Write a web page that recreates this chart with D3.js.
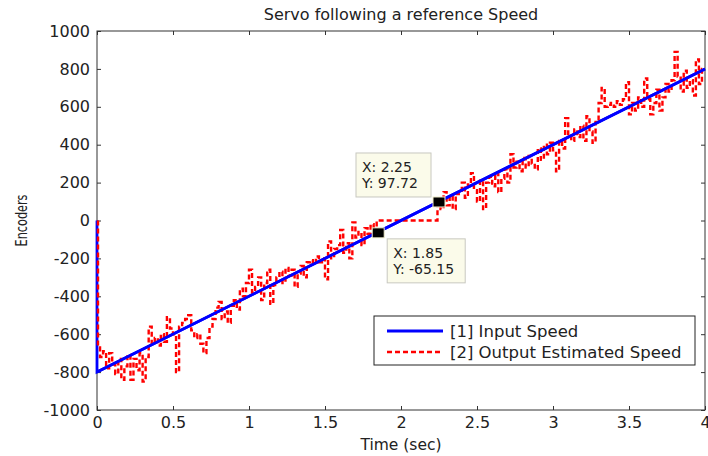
<!DOCTYPE html>
<html>
<head>
<meta charset="utf-8">
<script src="https://cdn.jsdelivr.net/npm/d3@7"></script>
<style>
  body { margin: 0; background: #fff; }
  svg text { font-family: "DejaVu Sans", sans-serif; fill: #222; }
</style>
</head>
<body>
<svg id="chart" width="708" height="456"></svg>
<script>
// input speed: jumps from 0 to -800 at t = 0, then ramps to 800 at t = 4
const inputTime = [0, 0, 4];
const inputSpeed = [0, -800, 800];

// estimated output speed, one sample every 0.02 s from t = 0 to t = 4
const sampleStep = 0.02;
const outputSpeed = [
  0, -670, -720, -690, -780, -700, -760, -810, -730, -840,
  -770, -710, -840, -730, -790, -700, -850, -720, -560, -650,
  -620, -660, -600, -640, -510, -570, -600, -800, -560, -540,
  -520, -500, -580, -620, -600, -650, -700, -620, -560, -520,
  -460, -430, -520, -480, -540, -450, -420, -470, -360, -400,
  -330, -260, -380, -350, -300, -420, -330, -260, -440, -340,
  -300, -270, -330, -250, -290, -260, -350, -280, -240, -300,
  -220, -210, -230, -190, -220, -200, -310, -110, -200, -150,
  -130, -50, -170, -120, -200, -10, -90, -60, -130, -40,
  -70, -20, -80, 0, 0, 0, 0, 0, 0, 0,
  0, 0, 0, 0, 0, 0, 0, 0, 0, 0,
  0, 0, 0, 110, 60, 150, 80, 130, 60, 140,
  150, 200, 120, 190, 250, 160, 100, 210, 60, 200,
  230, 180, 250, 150, 220, 270, 200, 350, 280, 310,
  260, 330, 280, 340, 300, 270, 380, 320, 400, 350,
  410, 370, 260, 420, 380, 540, 450, 420, 480, 440,
  500, 420, 550, 470, 410, 520, 620, 700, 600, 610,
  620, 600, 630, 610, 640, 730, 560, 620, 580, 650,
  600, 750, 640, 560, 620, 690, 580, 650, 720, 680,
  740, 890, 760, 680, 790, 700, 740, 660, 850, 720,
  800
];

const xTicks = [0, 0.5, 1, 1.5, 2, 2.5, 3, 3.5, 4];
const yTicks = [-1000, -800, -600, -400, -200, 0, 200, 400, 600, 800, 1000];

// data cursors placed on the input speed line
const tipX = [2.25, 1.85];
const tipY = [97.72, -65.15];

const legendLabels = ["[1] Input Speed", "[2] Output Estimated Speed"];

const svg = d3.select("#chart");
const margin = { left: 97, right: 3, top: 31, bottom: 46 };
const W = 708, H = 456;

const x = d3.scaleLinear().domain([0, 4]).range([margin.left, W - margin.right]);
const y = d3.scaleLinear().domain([-1000, 1000]).range([H - margin.bottom, margin.top]);

svg.append("clipPath").attr("id", "clip")
  .append("rect")
  .attr("x", x(0) - 2).attr("y", y(1000))
  .attr("width", x(4) - x(0) + 4).attr("height", y(-1000) - y(1000));

// axes, ticks pointing inward
const axisColor = "#333";
function styleAxis(g) {
  g.select(".domain").remove();
  g.selectAll(".tick line").attr("stroke", axisColor);
  g.selectAll(".tick text").attr("font-size", 16).attr("fill", "#222");
}

svg.append("g")
  .attr("transform", `translate(0,${y(-1000)})`)
  .call(d3.axisBottom(x).tickValues(xTicks).tickSize(-4).tickPadding(7).tickFormat((d) => String(d)))
  .call(styleAxis);

svg.append("g")
  .attr("transform", `translate(0,${y(1000)})`)
  .call(d3.axisTop(x).tickValues(xTicks).tickSize(-4).tickFormat(""))
  .call(styleAxis);

svg.append("g")
  .attr("transform", `translate(${x(0)},0)`)
  .call(d3.axisLeft(y).tickValues(yTicks).tickSize(-4).tickPadding(7).tickFormat((d) => String(d)))
  .call(styleAxis);

svg.append("g")
  .attr("transform", `translate(${x(4)},0)`)
  .call(d3.axisRight(y).tickValues(yTicks).tickSize(-4).tickFormat(""))
  .call(styleAxis);

svg.append("rect")
  .attr("x", x(0)).attr("y", y(1000))
  .attr("width", x(4) - x(0)).attr("height", y(-1000) - y(1000))
  .attr("fill", "none").attr("stroke", axisColor).attr("stroke-width", 1);

// lines
const plot = svg.append("g").attr("clip-path", "url(#clip)");

const inputLine = d3.line()
  .x((d, i) => x(inputTime[i]))
  .y((d) => y(d));

plot.append("path")
  .datum(inputSpeed)
  .attr("d", inputLine)
  .attr("fill", "none")
  .attr("stroke", "#0000ff")
  .attr("stroke-width", 2.8);

const outputLine = d3.line()
  .x((d, i) => x(i * sampleStep) + (i === 0 ? 1 : 0))
  .y((d) => y(d))
  .curve(d3.curveStepBefore);

plot.append("path")
  .datum(outputSpeed)
  .attr("d", outputLine)
  .attr("fill", "none")
  .attr("stroke", "#ff0000")
  .attr("stroke-width", 2.4)
  .attr("stroke-dasharray", "5,3");

// redraw the ramp over the noise, as in the reference
plot.append("path")
  .datum(inputSpeed.slice(1))
  .attr("d", d3.line().x((d, i) => x(inputTime[i + 1])).y((d) => y(d)))
  .attr("fill", "none")
  .attr("stroke", "#0000ff")
  .attr("stroke-width", 2.8);

// title and axis labels
svg.append("text")
  .attr("x", (x(0) + x(4)) / 2).attr("y", 20)
  .attr("text-anchor", "middle").attr("font-size", 16)
  .text("Servo following a reference Speed");

svg.append("text")
  .attr("x", (x(0) + x(4)) / 2).attr("y", 450)
  .attr("text-anchor", "middle").attr("font-size", 15.5)
  .text("Time (sec)");

svg.append("text")
  .attr("transform", `translate(27,${(y(1000) + y(-1000)) / 2}) rotate(-90)`)
  .attr("text-anchor", "middle").attr("font-size", 15)
  .attr("textLength", 52).attr("lengthAdjust", "spacingAndGlyphs")
  .text("Encoders");

// data tips
const tipBoxes = [
  { dx: -83, dy: -49, w: 75, h: 44 },
  { dx: 9, dy: 6, w: 78, h: 44 }
];
tipX.forEach((tx, i) => {
  const px = x(tx), py = y(tipY[i]);
  const b = tipBoxes[i];
  const g = svg.append("g");
  g.append("rect")
    .attr("x", px + b.dx).attr("y", py + b.dy)
    .attr("width", b.w).attr("height", b.h)
    .attr("fill", "#fbfbea").attr("stroke", "#c8c8c0");
  g.append("text")
    .attr("x", px + b.dx + 6).attr("y", py + b.dy + 19)
    .attr("font-size", 14).text(`X: ${tx}`);
  g.append("text")
    .attr("x", px + b.dx + 6).attr("y", py + b.dy + 35)
    .attr("font-size", 14).text(`Y: ${tipY[i]}`);
  g.append("rect")
    .attr("x", px - 6).attr("y", py - 5)
    .attr("width", 12).attr("height", 10)
    .attr("fill", "#000").attr("stroke", "#f3f0d0").attr("stroke-width", 1);
});

// legend
const legend = svg.append("g").attr("transform", "translate(374,316)");
legend.append("rect")
  .attr("width", 321).attr("height", 49)
  .attr("fill", "#fff").attr("stroke", "#222");
const legendStyles = [
  { color: "#0000ff", dash: null, width: 2.8 },
  { color: "#ff0000", dash: "5,3", width: 2.4 }
];
legendLabels.forEach((label, i) => {
  const ly = 15 + i * 21;
  legend.append("line")
    .attr("x1", 13).attr("x2", 69).attr("y1", ly).attr("y2", ly)
    .attr("stroke", legendStyles[i].color)
    .attr("stroke-width", legendStyles[i].width)
    .attr("stroke-dasharray", legendStyles[i].dash);
  legend.append("text")
    .attr("x", 76).attr("y", ly + 6)
    .attr("font-size", 16.5).text(label);
});
</script>
</body>
</html>
